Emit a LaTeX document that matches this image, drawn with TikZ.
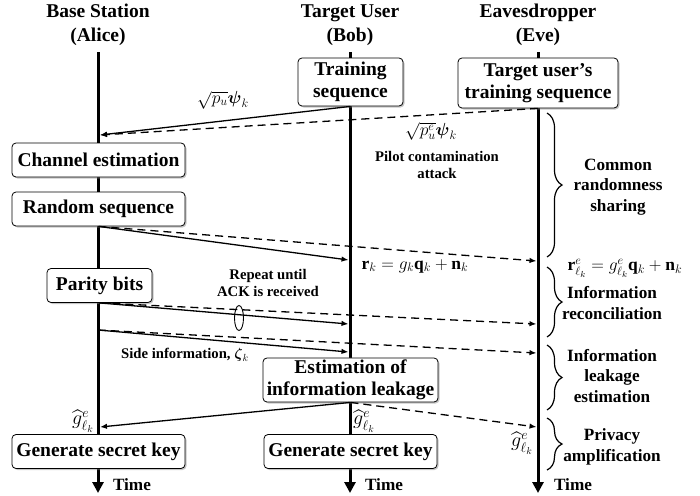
\RequirePackage{fix-cm}
\documentclass[tikz,border=0pt]{standalone}
\usepackage{amsmath,amssymb}
\usepackage{fontspec}
\setmainfont{Liberation Serif}
\usetikzlibrary{positioning,shadows,arrows.meta,decorations.pathreplacing}

\begin{document}
\begin{tikzpicture}[x=1pt, y=-1pt, node distance={49pt},
  box/.style = {draw, rounded corners=4pt, fill=white, line width=0.8pt, drop shadow={shadow xshift=1.5pt, shadow yshift=-1.5pt, opacity=0.45}, font=\bfseries\fontsize{19.5}{22}\selectfont, align=center, inner sep=2pt, minimum height=34pt},
  head/.style = {font=\bfseries\fontsize{19.5}{24}\selectfont, align=center},
  note/.style = {font=\bfseries\fontsize{14.7}{17}\selectfont, align=center},
  side/.style = {font=\bfseries\fontsize{17.2}{20.5}\selectfont, align=center},
  lbl/.style = {font=\fontsize{17.5}{19}\selectfont, inner sep=1pt},
  glbl/.style = {font=\fontsize{20}{22}\selectfont, inner sep=0pt},
  life/.style = {line width=3pt, -{Triangle[length=11pt,width=11pt]}},
  msg/.style = {line width=1.3pt, -{Latex[length=7pt,width=5.5pt]}},
  emsg/.style = {msg, dash pattern=on 8pt off 5pt},
  brc/.style = {decorate, decoration={brace, amplitude=15pt}, line width=1.2pt}]
\useasboundingbox (0,0) rectangle (700,495);

% parties
\node[head] (alice) at (98,25) {Base Station\\(Alice)};
\node[head] (bob) at (350,25) {Target User\\(Bob)};
\node[head] (eve) at (538,25) {Eavesdropper\\(Eve)};

% time lines
\coordinate (atop) at (98,52);  \coordinate (aend) at (98,493);
\coordinate (btop) at (350,52); \coordinate (bend) at (350,493);
\coordinate (etop) at (538,52); \coordinate (eend) at (538,493);
\draw[life] (atop) -- (aend);
\draw[life] (btop) -- (bend);
\draw[life] (etop) -- (eend);
\node[side] at (132,485) {Time};
\node[side] at (384,485) {Time};
\node[side] at (573,485) {Time};

% steps
\node[box, minimum width=173pt] (chan) at (98.5,160) {Channel estimation};
\node[box, minimum width=173pt] (rand) [below of=chan] {Random sequence};
\node[box, minimum width=105pt] (parity) at (99.5,285.5) {Parity bits};
\node[box, minimum width=173pt] (keya) at (98.5,451.5) {Generate secret key};
\node[box, minimum width=105pt, minimum height=48pt] (train) at (350.5,82) {Training\\sequence};
\node[box, minimum width=160pt, minimum height=50pt] (etrain) at (538,83) {Target user's\\training sequence};
\node[box, minimum width=175pt, minimum height=44pt] (est) at (350.5,380) {Estimation of\\information leakage};
\node[box, minimum width=173pt] (keyb) [right of=keya, node distance=252pt] {Generate secret key};

% messages
\coordinate (a1) at (100,135);
\coordinate (b2) at (348.5,260); \coordinate (e2) at (536.5,261);
\coordinate (b3) at (348.5,324); \coordinate (e3) at (536.5,324);
\coordinate (a4) at (98,330);
\coordinate (b4) at (348.5,352); \coordinate (e4) at (536.5,353);
\coordinate (a5) at (100,427);   \coordinate (e5) at (536.5,427);
\draw[msg] (train.south) -- (a1);
\draw[emsg] (etrain.south) -- (a1);
\draw[msg] (rand.south) -- (b2);
\draw[emsg] (rand.south) -- (e2);
\draw[msg] (parity.south) -- (b3);
\draw[emsg] (parity.south) -- (e3);
\draw[msg] (a4) -- (b4);
\draw[emsg] (a4) -- (e4);
\draw[msg] (est.south) -- (a5);
\draw[emsg] (est.south) -- (e5);
\draw[line width=0.9pt] (239,318) ellipse [x radius=4.5, y radius=12.5];

% labels
\node[lbl] (pu) at (223,100) {$\sqrt{p_u}\boldsymbol{\psi}_k$};
\node[lbl] (pue) at (431,131) {$\sqrt{p_u^e}\boldsymbol{\psi}_k$};
\node[note] (pilot) at (437,165) {Pilot contamination\\attack};
\node[lbl] (rk) at (415,266) {$\mathbf{r}_k = g_k\mathbf{q}_k + \mathbf{n}_k$};
\node[lbl] (rke) at (625,268) {$\mathbf{r}^e_{\ell_k} = g^e_{\ell_k}\mathbf{q}_k + \mathbf{n}_k$};
\node[note] (rep) at (268,283) {Repeat until\\ACK is received};
\node[note] (sinfo) at (185,355) {Side information, $\boldsymbol{\zeta}_k$};
\node[glbl] (ga) at (83,421) {$\widehat{g}^e_{\ell_k}$};
\node[glbl] (gb) at (364,421) {$\widehat{g}^e_{\ell_k}$};
\node[glbl] (ge) at (522,443) {$\widehat{g}^e_{\ell_k}$};

% phases
\draw[brc] (547,113) -- (547,257);
\node[side] at (618,187) {Common\\randomness\\sharing};
\draw[brc] (547,267) -- (547,337);
\node[side] at (612,303) {Information\\reconciliation};
\draw[brc] (547,345) -- (547,410);
\node[side] at (612,376) {Information\\leakage\\estimation};
\draw[brc] (547,418) -- (547,470);
\node[side] at (612,447) {Privacy\\amplification};
\end{tikzpicture}
\end{document}
